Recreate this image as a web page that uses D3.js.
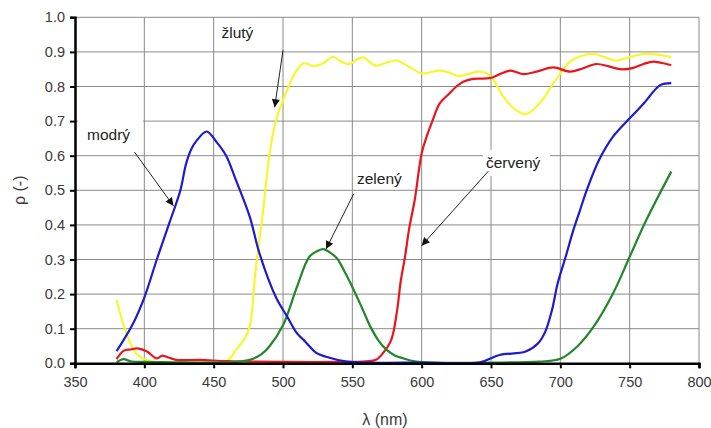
<!DOCTYPE html>
<html>
<head>
<meta charset="utf-8">
<script src="https://cdn.jsdelivr.net/npm/d3@7"></script>
<style>
  body { margin: 0; background: #fff; }
  text { font-family: "Liberation Sans", Arial, sans-serif; }
</style>
</head>
<body>
<svg id="chart"></svg>
<script>
// wavelengths (nm) and reflectance for each filter
const modryNm = [380, 392, 400, 409, 418, 426, 430, 434, 438, 445, 452, 459, 466, 476, 483, 495, 503, 510, 515, 524, 531, 546, 560, 600, 642, 656, 675, 684, 689, 694, 698, 704, 709, 714, 719, 728, 738, 750, 760, 772, 780];
const modryVal = [0.035, 0.116, 0.19, 0.30, 0.405, 0.50, 0.575, 0.62, 0.645, 0.67, 0.64, 0.60, 0.53, 0.424, 0.318, 0.19, 0.135, 0.087, 0.067, 0.03, 0.019, 0.005, 0.002, 0.002, 0.003, 0.024, 0.034, 0.058, 0.09, 0.154, 0.23, 0.31, 0.38, 0.44, 0.50, 0.588, 0.655, 0.708, 0.75, 0.804, 0.81];

const zelenyNm = [380, 385, 390, 400, 420, 450, 466, 476, 484, 490, 500, 510, 519, 525, 529, 534, 539, 545, 551, 557, 563, 569, 575, 581, 587, 596, 610, 650, 685, 700, 712, 724, 738, 750, 762, 780];
const zelenyVal = [0.003, 0.012, 0.006, 0.004, 0.003, 0.002, 0.004, 0.01, 0.025, 0.048, 0.11, 0.22, 0.308, 0.325, 0.33, 0.32, 0.303, 0.26, 0.212, 0.16, 0.106, 0.065, 0.038, 0.022, 0.014, 0.005, 0.002, 0.002, 0.005, 0.013, 0.048, 0.106, 0.202, 0.308, 0.414, 0.554];

const zlutyNm = [380, 387, 394, 400, 410, 440, 459, 466, 472, 476, 480, 486, 490, 495, 503, 510, 515, 522, 529, 536, 542, 548, 553, 558, 563, 567, 574, 582, 591, 600, 613, 620, 627, 635, 642, 649, 659, 668, 675, 685, 695, 707, 715, 724, 732, 740, 750, 760, 770, 780];
const zlutyVal = [0.183, 0.087, 0.029, 0.012, 0.003, 0.002, 0.005, 0.038, 0.07, 0.106, 0.26, 0.453, 0.597, 0.703, 0.79, 0.848, 0.867, 0.859, 0.867, 0.886, 0.872, 0.865, 0.878, 0.884, 0.87, 0.86, 0.868, 0.875, 0.857, 0.838, 0.846, 0.84, 0.83, 0.838, 0.843, 0.833, 0.77, 0.732, 0.72, 0.751, 0.809, 0.872, 0.888, 0.894, 0.885, 0.875, 0.885, 0.894, 0.892, 0.885];

const cervenyNm = [380, 385, 390, 395, 402, 409, 413, 416, 423, 440, 460, 500, 540, 560, 567, 572, 578, 582, 585, 588, 591, 595, 600, 604, 608, 613, 620, 625, 630, 637, 649, 656, 664, 673, 683, 695, 707, 716, 726, 735, 743, 752, 760, 767, 773, 780];
const cervenyVal = [0.012, 0.036, 0.04, 0.043, 0.034, 0.014, 0.022, 0.019, 0.01, 0.01, 0.006, 0.004, 0.004, 0.006, 0.01, 0.029, 0.067, 0.145, 0.24, 0.308, 0.39, 0.472, 0.607, 0.66, 0.703, 0.751, 0.78, 0.80, 0.814, 0.822, 0.824, 0.835, 0.846, 0.836, 0.843, 0.855, 0.843, 0.852, 0.865, 0.858, 0.85, 0.853, 0.865, 0.872, 0.868, 0.862];

const xTicks = [350, 400, 450, 500, 550, 600, 650, 700, 750, 800];
const yTicks = [0, 0.1, 0.2, 0.3, 0.4, 0.5, 0.6, 0.7, 0.8, 0.9, 1.0];

// label text, label position and arrow in data units
const labels = [
  { text: "žlutý", lx: 221.5, ly: 38, from: [500, 0.905], to: [494, 0.74] },
  { text: "modrý", lx: 87, ly: 140, from: [393, 0.61], to: [421, 0.455] },
  { text: "zelený", lx: 357, ly: 184, from: [551, 0.49], to: [531, 0.33] },
  { text: "červený", lx: 486, ly: 168, from: [648, 0.555], to: [600, 0.34] }
];

const width = 711, height = 428;
const margin = { top: 17.3, right: 12, bottom: 64.7, left: 75 };
const font = "Liberation Sans, Arial, sans-serif";

const svg = d3.select("#chart").attr("width", width).attr("height", height);

const x = d3.scaleLinear().domain([350, 800]).range([margin.left, width - margin.right]);
const y = d3.scaleLinear().domain([0, 1]).range([height - margin.bottom, margin.top]);

// grid
svg.append("g")
  .selectAll("line")
  .data(xTicks.slice(1))
  .enter()
  .append("line")
  .attr("x1", d => x(d)).attr("x2", d => x(d))
  .attr("y1", y(1)).attr("y2", y(0))
  .attr("stroke", "#8a8a8a").attr("stroke-width", 1);

svg.append("g")
  .selectAll("line")
  .data(yTicks.slice(1))
  .enter()
  .append("line")
  .attr("x1", x(350)).attr("x2", x(800))
  .attr("y1", d => y(d)).attr("y2", d => y(d))
  .attr("stroke", "#8a8a8a").attr("stroke-width", 1);

// white boxes behind two of the labels
svg.append("rect").attr("x", 78).attr("y", 118).attr("width", 65).attr("height", 32).attr("fill", "#fff");
svg.append("rect").attr("x", 483).attr("y", 150).attr("width", 67).attr("height", 26).attr("fill", "#fff");

// curves
const line = d3.line().x(d => x(d[0])).y(d => y(d[1])).curve(d3.curveCatmullRom.alpha(0.5));
const series = [
  { nm: zlutyNm, val: zlutyVal, color: "#f7f72e" },
  { nm: cervenyNm, val: cervenyVal, color: "#e8161c" },
  { nm: zelenyNm, val: zelenyVal, color: "#23862a" },
  { nm: modryNm, val: modryVal, color: "#1b1bd0" }
];

svg.append("g")
  .selectAll("path")
  .data(series)
  .enter()
  .append("path")
  .attr("d", s => line(d3.zip(s.nm, s.val)))
  .attr("fill", "none")
  .attr("stroke", s => s.color)
  .attr("stroke-width", 2.2)
  .attr("stroke-linejoin", "round");

// axes
const xAxis = d3.axisBottom(x).tickValues(xTicks).tickSize(5).tickFormat(d3.format("d"));
const yAxis = d3.axisLeft(y).tickValues(yTicks).tickSize(5).tickFormat(d3.format(".1f"));

const gx = svg.append("g").attr("transform", `translate(0,${y(0)})`).call(xAxis);
const gy = svg.append("g").attr("transform", `translate(${x(350)},0)`).call(yAxis);

[gx, gy].forEach(g => {
  g.select(".domain").attr("stroke", "#000").attr("stroke-width", 2.5);
  g.selectAll(".tick line").attr("stroke", "#000").attr("stroke-width", 2);
  g.selectAll(".tick text")
    .attr("fill", "#3a3a3a")
    .style("font-size", "14.5px")
    .style("font-family", font);
});
gx.selectAll(".tick text").attr("dy", "1.05em").attr("y", 8);
gy.selectAll(".tick text").attr("x", -10);

// axis titles
svg.append("text")
  .attr("x", (x(350) + x(800)) / 2 - 2)
  .attr("y", 425)
  .attr("text-anchor", "middle")
  .attr("fill", "#3a3a3a")
  .style("font-size", "16px")
  .text("λ (nm)");

svg.append("text")
  .attr("transform", `translate(25,${(y(0) + y(1)) / 2}) rotate(-90)`)
  .attr("text-anchor", "middle")
  .attr("fill", "#3a3a3a")
  .style("font-size", "16px")
  .text("ρ (-)");

// arrows
svg.append("defs").append("marker")
  .attr("id", "head")
  .attr("viewBox", "0 0 10 10")
  .attr("refX", 10).attr("refY", 5)
  .attr("markerWidth", 11).attr("markerHeight", 8)
  .attr("markerUnits", "userSpaceOnUse")
  .attr("orient", "auto")
  .append("path")
  .attr("d", "M0,0 L10,5 L0,10 Z")
  .attr("fill", "#111");

svg.append("g")
  .selectAll("line")
  .data(labels)
  .enter()
  .append("line")
  .attr("x1", d => x(d.from[0])).attr("y1", d => y(d.from[1]))
  .attr("x2", d => x(d.to[0])).attr("y2", d => y(d.to[1]))
  .attr("stroke", "#222").attr("stroke-width", 1)
  .attr("marker-end", "url(#head)");

svg.append("g")
  .selectAll("text")
  .data(labels)
  .enter()
  .append("text")
  .attr("x", d => d.lx)
  .attr("y", d => d.ly)
  .attr("fill", "#222")
  .style("font-size", "15.5px")
  .text(d => d.text);
</script>
</body>
</html>
